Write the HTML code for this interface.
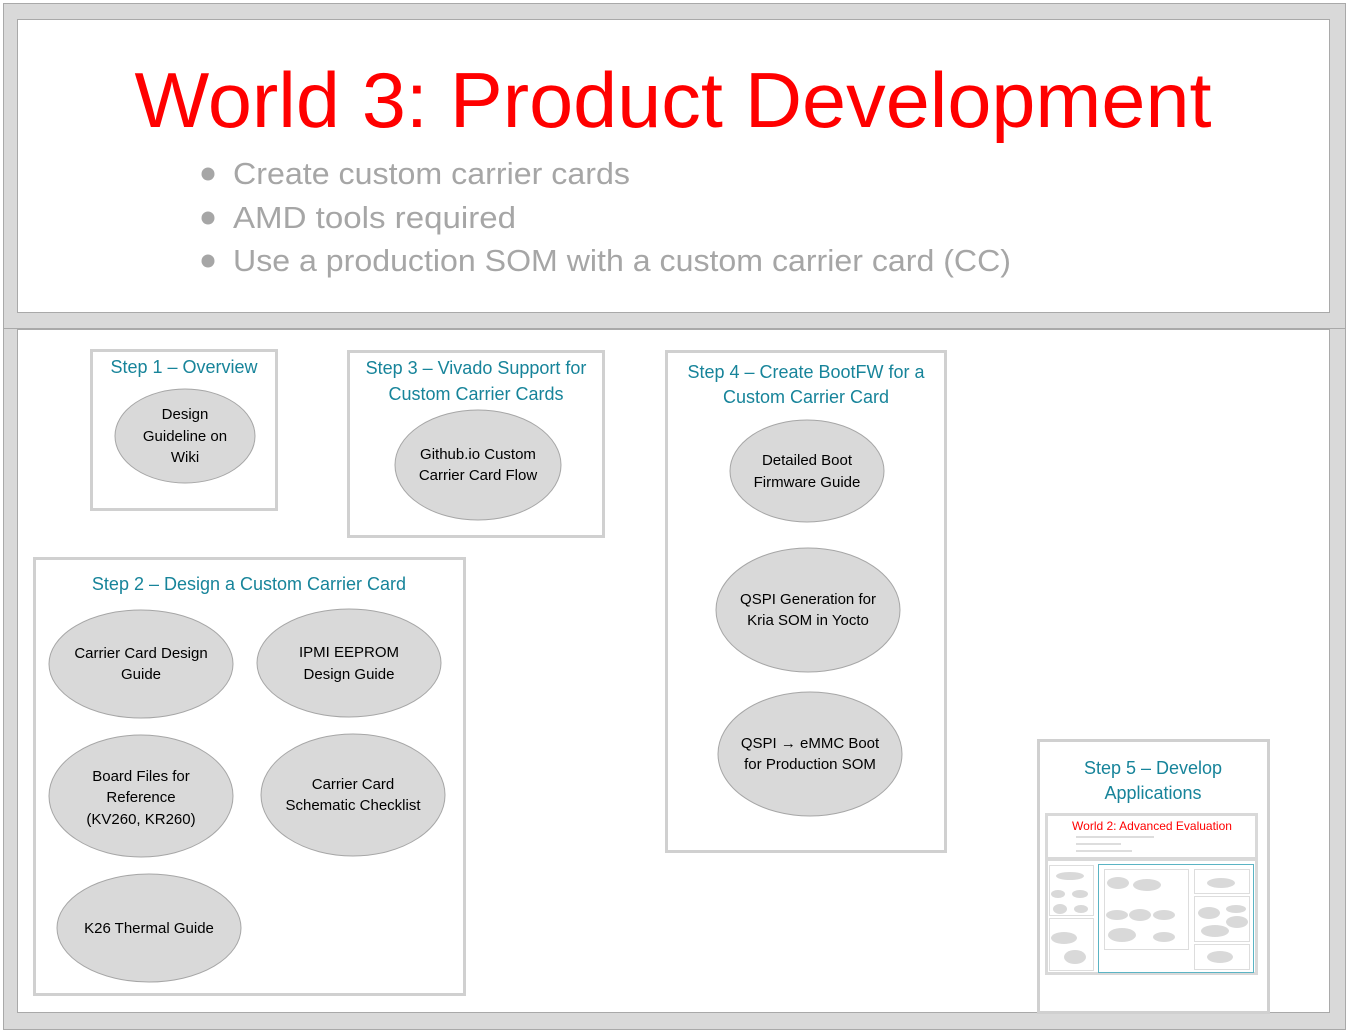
<!DOCTYPE html>
<html><head><meta charset="utf-8"><style>
html,body{margin:0;padding:0;background:#fff;}
svg{display:block;}
text{font-family:"Liberation Sans",sans-serif;}
.t{fill:#17849a;font-size:18px;text-anchor:middle;}
.e{fill:#d9d9d9;stroke:#a6a6a6;stroke-width:1;}
.et{fill:#000;font-size:15px;text-anchor:middle;}
.b{fill:#fff;stroke:#d0d0d0;stroke-width:3;}
.bl{fill:#a6a6a6;font-size:31px;}
</style></head><body>
<svg width="1347" height="1032" viewBox="0 0 1347 1032">
<rect x="0" y="0" width="1347" height="1032" fill="#fff"/>
<rect x="3.5" y="3.5" width="1342" height="1026" fill="#d9d9d9" stroke="#a9a9a9"/>
<rect x="17.5" y="19.5" width="1312" height="293" fill="#fff" stroke="#a9a9a9"/>
<line x1="3" y1="328.5" x2="1346" y2="328.5" stroke="#a9a9a9"/>
<rect x="17.5" y="329.5" width="1312" height="683" fill="#fff" stroke="#a9a9a9"/>

<text x="673" y="127" text-anchor="middle" fill="#ff0000" font-size="78" textLength="1077" lengthAdjust="spacingAndGlyphs">World 3: Product Development</text>
<circle cx="208" cy="174" r="6.5" fill="#a6a6a6"/>
<circle cx="208" cy="218" r="6.5" fill="#a6a6a6"/>
<circle cx="208" cy="261" r="6.5" fill="#a6a6a6"/>
<text class="bl" x="233" y="184" textLength="397" lengthAdjust="spacingAndGlyphs">Create custom carrier cards</text>
<text class="bl" x="233" y="228" textLength="283" lengthAdjust="spacingAndGlyphs">AMD tools required</text>
<text class="bl" x="233" y="271" textLength="778" lengthAdjust="spacingAndGlyphs">Use a production SOM with a custom carrier card (CC)</text>

<!-- Step 1 -->
<rect class="b" x="91.5" y="350.5" width="185" height="159"/>
<text class="t" x="184" y="373">Step 1 – Overview</text>
<ellipse class="e" cx="185" cy="436" rx="70" ry="47"/>
<text class="et" x="185" y="419">Design</text>
<text class="et" x="185" y="441">Guideline on</text>
<text class="et" x="185" y="462">Wiki</text>

<!-- Step 3 -->
<rect class="b" x="348.5" y="351.5" width="255" height="185"/>
<text class="t" x="476" y="374">Step 3 – Vivado Support for</text>
<text class="t" x="476" y="400">Custom Carrier Cards</text>
<ellipse class="e" cx="478" cy="465" rx="83" ry="55"/>
<text class="et" x="478" y="459">Github.io Custom</text>
<text class="et" x="478" y="480">Carrier Card Flow</text>

<!-- Step 4 -->
<rect class="b" x="666.5" y="351.5" width="279" height="500"/>
<text class="t" x="806" y="378">Step 4 – Create BootFW for a</text>
<text class="t" x="806" y="403">Custom Carrier Card</text>
<ellipse class="e" cx="807" cy="471" rx="77" ry="51"/>
<text class="et" x="807" y="465">Detailed Boot</text>
<text class="et" x="807" y="487">Firmware Guide</text>
<ellipse class="e" cx="808" cy="610" rx="92" ry="62"/>
<text class="et" x="808" y="604">QSPI Generation for</text>
<text class="et" x="808" y="625">Kria SOM in Yocto</text>
<ellipse class="e" cx="810" cy="754" rx="92" ry="62"/>
<text class="et" x="810" y="748">QSPI → eMMC Boot</text>
<text class="et" x="810" y="769">for Production SOM</text>

<!-- Step 2 -->
<rect class="b" x="34.5" y="558.5" width="430" height="436"/>
<text class="t" x="249" y="590">Step 2 – Design a Custom Carrier Card</text>
<ellipse class="e" cx="141" cy="664" rx="92" ry="54"/>
<text class="et" x="141" y="658">Carrier Card Design</text>
<text class="et" x="141" y="679">Guide</text>
<ellipse class="e" cx="349" cy="663" rx="92" ry="54"/>
<text class="et" x="349" y="657">IPMI EEPROM</text>
<text class="et" x="349" y="679">Design Guide</text>
<ellipse class="e" cx="141" cy="796" rx="92" ry="61"/>
<text class="et" x="141" y="781">Board Files for</text>
<text class="et" x="141" y="802">Reference</text>
<text class="et" x="141" y="824">(KV260, KR260)</text>
<ellipse class="e" cx="353" cy="795" rx="92" ry="61"/>
<text class="et" x="353" y="789">Carrier Card</text>
<text class="et" x="353" y="810">Schematic Checklist</text>
<ellipse class="e" cx="149" cy="928" rx="92" ry="54"/>
<text class="et" x="149" y="933">K26 Thermal Guide</text>

<!-- Step 5 -->
<rect class="b" x="1038.5" y="740.5" width="230" height="272"/>
<text class="t" x="1153" y="774">Step 5 – Develop</text>
<text class="t" x="1153" y="799">Applications</text>
<!-- thumbnail -->
<rect x="1045" y="813" width="213" height="162" fill="#d9d9d9"/>
<rect x="1048" y="816" width="207" height="41" fill="#fff"/>
<text x="1152" y="830" text-anchor="middle" fill="#ff0000" font-size="12">World 2: Advanced Evaluation</text>
<rect x="1076" y="836" width="78" height="2" fill="#ddd"/>
<rect x="1076" y="843" width="45" height="2" fill="#ddd"/>
<rect x="1076" y="850" width="56" height="2" fill="#ddd"/>
<rect x="1048" y="861" width="207" height="111" fill="#fff"/>
<rect x="1098.5" y="864.5" width="155" height="108" fill="#fff" stroke="#5bb4c4"/>
<rect x="1049.5" y="865.5" width="44" height="50" fill="#fff" stroke="#ddd"/>
<rect x="1049.5" y="918.5" width="44" height="52" fill="#fff" stroke="#ddd"/>
<rect x="1104.5" y="869.5" width="84" height="80" fill="#fff" stroke="#ddd"/>
<rect x="1194.5" y="869.5" width="55" height="24" fill="#fff" stroke="#ddd"/>
<rect x="1194.5" y="896.5" width="55" height="45" fill="#fff" stroke="#ddd"/>
<rect x="1194.5" y="944.5" width="55" height="25" fill="#fff" stroke="#ddd"/>
<g fill="#d9d9d9">
<ellipse cx="1070" cy="876" rx="14" ry="4"/>
<ellipse cx="1058" cy="894" rx="7" ry="4"/><ellipse cx="1080" cy="894" rx="8" ry="4"/>
<ellipse cx="1060" cy="909" rx="7" ry="5"/><ellipse cx="1081" cy="909" rx="7" ry="4"/>
<ellipse cx="1064" cy="938" rx="13" ry="6"/><ellipse cx="1075" cy="957" rx="11" ry="7"/>
<ellipse cx="1118" cy="883" rx="11" ry="6"/><ellipse cx="1147" cy="885" rx="14" ry="6"/>
<ellipse cx="1117" cy="915" rx="11" ry="5"/><ellipse cx="1140" cy="915" rx="11" ry="6"/><ellipse cx="1164" cy="915" rx="11" ry="5"/>
<ellipse cx="1122" cy="935" rx="14" ry="7"/><ellipse cx="1164" cy="937" rx="11" ry="5"/>
<ellipse cx="1221" cy="883" rx="14" ry="5"/>
<ellipse cx="1209" cy="913" rx="11" ry="6"/><ellipse cx="1236" cy="909" rx="10" ry="4"/><ellipse cx="1237" cy="922" rx="11" ry="6"/><ellipse cx="1215" cy="931" rx="14" ry="6"/>
<ellipse cx="1220" cy="957" rx="13" ry="6"/>
</g>
</svg>
</body></html>
